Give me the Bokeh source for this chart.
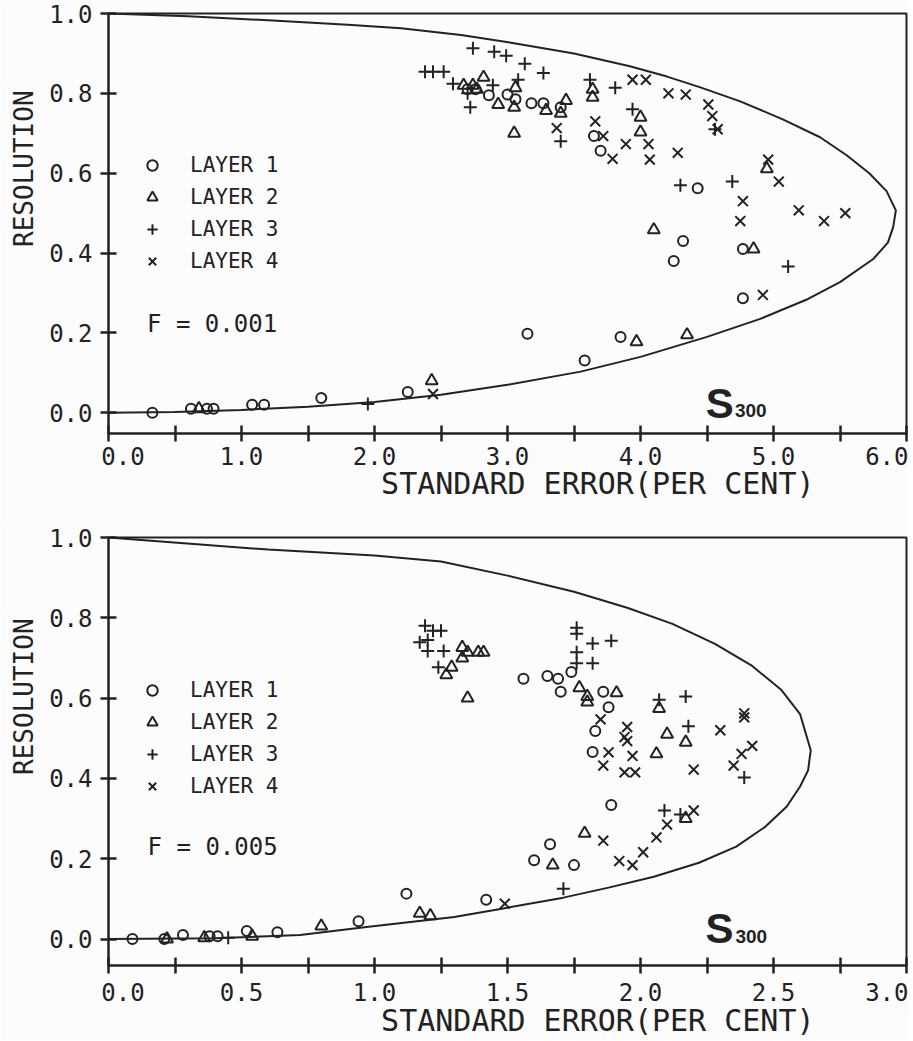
from bokeh.plotting import figure
from bokeh.models import FixedTicker, Label, Legend, LegendItem, Range1d, PrintfTickFormatter
from bokeh.layouts import column
from bokeh.embed import file_html
from bokeh.resources import INLINE

INK = "#222222"
MONO = "DejaVu Sans Mono"
BG = "#fcfcfc"
NB = "\u00a0"

# ---------------- top panel (F = 0.001) ----------------
TOP_CURVE_X = [0.0, 0.6, 1.2, 1.8, 2.2, 2.65, 3.06, 3.5, 3.92, 4.2, 4.45, 4.75, 5.07, 5.35, 5.55, 5.72, 5.85, 5.92, 5.9, 5.86, 5.75, 5.5, 5.26, 4.9, 4.5, 4.0, 3.55, 3.0, 2.5, 2.0, 1.5, 1.0, 0.5, 0.0]
TOP_CURVE_Y = [1.0, 0.993, 0.983, 0.972, 0.963, 0.946, 0.925, 0.9, 0.868, 0.842, 0.815, 0.78, 0.735, 0.69, 0.645, 0.60, 0.555, 0.507, 0.465, 0.426, 0.385, 0.327, 0.285, 0.235, 0.19, 0.14, 0.103, 0.07, 0.045, 0.027, 0.015, 0.007, 0.002, 0.0]

TOP_L1_X = [0.33, 0.62, 0.74, 0.79, 1.08, 1.17, 1.6, 2.25, 3.15, 3.58, 3.85, 4.25, 4.32, 4.77, 4.77, 4.43, 3.70, 3.65, 2.70, 2.76, 2.86, 3.0, 3.06, 3.18, 3.27, 3.40]
TOP_L1_Y = [0.0, 0.01, 0.01, 0.01, 0.02, 0.02, 0.037, 0.052, 0.198, 0.131, 0.19, 0.38, 0.43, 0.41, 0.287, 0.562, 0.656, 0.693, 0.81, 0.81, 0.795, 0.797, 0.785, 0.775, 0.775, 0.765]

TOP_L2_X = [0.68, 2.43, 3.97, 4.35, 4.85, 4.10, 4.95, 4.0, 4.0, 3.64, 3.64, 3.44, 3.40, 3.29, 3.05, 3.05, 3.06, 2.93, 2.82, 2.67, 2.74, 2.77]
TOP_L2_Y = [0.01, 0.08, 0.178, 0.195, 0.41, 0.458, 0.611, 0.74, 0.703, 0.81, 0.79, 0.782, 0.75, 0.757, 0.70, 0.765, 0.814, 0.772, 0.84, 0.82, 0.82, 0.81]

TOP_L3_X = [1.95, 2.38, 2.44, 2.52, 2.59, 2.70, 2.72, 2.74, 2.89, 2.9, 2.99, 3.08, 3.13, 3.27, 3.40, 3.62, 3.81, 3.94, 4.56, 4.30, 4.69, 5.11]
TOP_L3_Y = [0.022, 0.854, 0.854, 0.854, 0.824, 0.80, 0.765, 0.913, 0.82, 0.904, 0.894, 0.834, 0.874, 0.851, 0.68, 0.834, 0.814, 0.76, 0.71, 0.57, 0.579, 0.366]

TOP_L4_X = [2.44, 3.37, 3.66, 3.72, 3.79, 3.89, 3.94, 4.04, 4.06, 4.07, 4.21, 4.28, 4.34, 4.51, 4.54, 4.58, 4.75, 4.77, 4.96, 5.04, 5.19, 5.38, 5.54, 4.92]
TOP_L4_Y = [0.047, 0.713, 0.73, 0.693, 0.636, 0.673, 0.834, 0.834, 0.673, 0.634, 0.80, 0.651, 0.797, 0.772, 0.743, 0.71, 0.48, 0.53, 0.634, 0.579, 0.507, 0.48, 0.50, 0.295]

TOP_X_TICKS = [0.0, 0.5, 1.0, 1.5, 2.0, 2.5, 3.0, 3.5, 4.0, 4.5, 5.0, 5.5, 6.0]
TOP_X_LABELED = [0.0, 1.0, 2.0, 3.0, 4.0, 5.0, 6.0]

# ---------------- bottom panel (F = 0.005) ----------------
BOT_CURVE_X = [0.0, 0.6, 1.0, 1.25, 1.5, 1.75, 1.95, 2.12, 2.28, 2.42, 2.53, 2.6, 2.64, 2.63, 2.6, 2.55, 2.47, 2.36, 2.22, 2.05, 1.88, 1.71, 1.5, 1.3, 0.97, 0.72, 0.4, 0.0]
BOT_CURVE_Y = [1.0, 0.97, 0.955, 0.94, 0.905, 0.865, 0.825, 0.785, 0.735, 0.68, 0.62, 0.56, 0.47, 0.42, 0.38, 0.33, 0.28, 0.23, 0.19, 0.155, 0.128, 0.103, 0.078, 0.055, 0.03, 0.01, 0.002, 0.0]

BOT_L1_X = [0.09, 0.21, 0.28, 0.38, 0.41, 0.52, 0.635, 0.94, 1.12, 1.42, 1.60, 1.66, 1.75, 1.89, 1.56, 1.65, 1.69, 1.70, 1.74, 1.86, 1.88, 1.83, 1.82]
BOT_L1_Y = [0.0, 0.0, 0.01, 0.007, 0.007, 0.02, 0.017, 0.044, 0.113, 0.098, 0.196, 0.236, 0.184, 0.334, 0.648, 0.655, 0.648, 0.616, 0.665, 0.616, 0.577, 0.518, 0.466]

BOT_L2_X = [0.22, 0.36, 0.54, 0.80, 1.17, 1.21, 1.29, 1.27, 1.33, 1.35, 1.39, 1.41, 1.33, 1.35, 1.77, 1.80, 1.80, 1.91, 2.07, 2.10, 2.17, 2.06, 1.79, 1.67, 2.17]
BOT_L2_Y = [0.0, 0.003, 0.007, 0.032, 0.064, 0.058, 0.677, 0.658, 0.726, 0.714, 0.714, 0.714, 0.70, 0.60, 0.626, 0.604, 0.59, 0.613, 0.574, 0.51, 0.49, 0.461, 0.263, 0.184, 0.30]

BOT_L3_X = [0.45, 1.19, 1.22, 1.25, 1.17, 1.20, 1.20, 1.26, 1.24, 1.76, 1.76, 1.82, 1.89, 1.76, 1.76, 1.82, 2.07, 2.17, 2.18, 2.39, 2.09, 2.15, 1.71]
BOT_L3_Y = [0.003, 0.78, 0.768, 0.768, 0.739, 0.745, 0.717, 0.717, 0.677, 0.775, 0.76, 0.736, 0.743, 0.714, 0.687, 0.687, 0.596, 0.604, 0.53, 0.402, 0.32, 0.31, 0.125]

BOT_L4_X = [1.49, 1.85, 1.95, 1.94, 1.95, 2.30, 2.39, 2.39, 1.88, 1.86, 1.97, 1.94, 1.98, 2.20, 2.38, 2.42, 2.35, 2.20, 2.10, 2.06, 2.01, 1.92, 1.97, 1.86]
BOT_L4_Y = [0.088, 0.547, 0.528, 0.503, 0.493, 0.52, 0.562, 0.552, 0.465, 0.432, 0.456, 0.415, 0.415, 0.422, 0.461, 0.481, 0.432, 0.32, 0.285, 0.253, 0.216, 0.194, 0.184, 0.245]

BOT_X_TICKS = [0.0, 0.25, 0.5, 0.75, 1.0, 1.25, 1.5, 1.75, 2.0, 2.25, 2.5, 2.75, 3.0]
BOT_X_LABELED = [0.0, 0.5, 1.0, 1.5, 2.0, 2.5, 3.0]

Y_TICKS = [0.0, 0.2, 0.4, 0.6, 0.8, 1.0]
LAYER_NAMES = ["LAYER 1", "LAYER 2", "LAYER 3", "LAYER 4"]
X_TITLE = "STANDARD ERROR(PER CENT)"
Y_TITLE = "RESOLUTION"


def panel(height, min_top, min_bottom, x_end, y_start, ticks, labeled,
          curve_x, curve_y, layers, f_text, f_pos, s_pos, sub_pos, legend_bottom,
          xlabel_standoff, xtitle_standoff):
    p = figure(width=908, height=height, output_backend="svg", toolbar_location=None,
               x_range=Range1d(0, x_end), y_range=Range1d(y_start, 1.0),
               min_border_left=108, min_border_right=2, min_border_top=min_top,
               min_border_bottom=min_bottom)
    p.background_fill_color = BG
    p.border_fill_color = BG
    p.outline_line_color = INK
    p.outline_line_width = 2
    p.xgrid.visible = False
    p.ygrid.visible = False

    for ax in (p.xaxis[0], p.yaxis[0]):
        ax.axis_line_color = INK
        ax.axis_line_width = 2
        ax.major_tick_line_color = INK
        ax.major_tick_line_width = 2.5
        ax.major_tick_in = 8
        ax.major_tick_out = 8
        ax.minor_tick_line_color = None
        ax.major_label_text_font = MONO
        ax.major_label_text_font_size = "24px"
        ax.major_label_text_color = INK
        ax.formatter = PrintfTickFormatter(format="%.1f")
        ax.axis_label_text_font = MONO
        ax.axis_label_text_font_style = "normal"
        ax.axis_label_text_color = INK

    xa = p.xaxis[0]
    xa.ticker = FixedTicker(ticks=ticks)
    xa.major_label_standoff = xlabel_standoff
    overrides = {t: "" for t in ticks if t not in labeled}
    overrides[labeled[0]] = NB * 2 + "%.1f" % labeled[0]
    xa.major_label_overrides = overrides
    xa.axis_label = NB * 10 + X_TITLE
    xa.axis_label_text_font_size = "30px"
    xa.axis_label_standoff = xtitle_standoff

    ya = p.yaxis[0]
    ya.ticker = FixedTicker(ticks=Y_TICKS)
    ya.major_label_standoff = 8
    ya.axis_label = NB * 7 + Y_TITLE
    ya.axis_label_text_font_size = "26px"
    ya.axis_label_standoff = 7

    p.line(curve_x, curve_y, line_color=INK, line_width=2)

    markers = ["circle", "triangle", "cross", "x"]
    sizes = [10, 12, 13, 14]
    rends = []
    for (lx, ly), m, s in zip(layers, markers, sizes):
        r = p.scatter(lx, ly, marker=m, size=s, fill_color=None, line_color=INK, line_width=2)
        rends.append(r)

    legend = Legend(items=[LegendItem(label=n, renderers=[r]) for n, r in zip(LAYER_NAMES, rends)],
                    location=(31, legend_bottom), glyph_width=26, glyph_height=26,
                    label_standoff=25, spacing=6, padding=0, margin=0,
                    border_line_color=None, background_fill_alpha=0,
                    label_text_font=MONO, label_text_font_size="21px",
                    label_text_color=INK, label_height=26)
    p.add_layout(legend)

    p.add_layout(Label(x=f_pos[0], y=f_pos[1], text=f_text, text_font=MONO, text_color=INK,
                       text_font_size="24px", text_baseline="middle"))
    p.add_layout(Label(x=s_pos[0], y=s_pos[1], text="S", text_font="Liberation Sans",
                       text_font_style="bold", text_font_size="42px", text_color=INK,
                       text_baseline="alphabetic"))
    p.add_layout(Label(x=sub_pos[0], y=sub_pos[1], text="300", text_font="Liberation Sans",
                       text_font_style="bold", text_font_size="19px", text_color=INK,
                       text_baseline="alphabetic"))
    return p


p1 = panel(523, 13, 90, 6.0, -0.052, TOP_X_TICKS, TOP_X_LABELED,
           TOP_CURVE_X, TOP_CURVE_Y,
           [(TOP_L1_X, TOP_L1_Y), (TOP_L2_X, TOP_L2_Y), (TOP_L3_X, TOP_L3_Y), (TOP_L4_X, TOP_L4_Y)],
           "F = 0.001", (0.29, 0.223), (4.49, 0.022), (4.71, 0.005), 159, 1, -8)

p2 = panel(517, 14, 71, 3.0, -0.066, BOT_X_TICKS, BOT_X_LABELED,
           BOT_CURVE_X, BOT_CURVE_Y,
           [(BOT_L1_X, BOT_L1_Y), (BOT_L2_X, BOT_L2_Y), (BOT_L3_X, BOT_L3_Y), (BOT_L4_X, BOT_L4_Y)],
           "F = 0.005", (0.147, 0.228), (2.244, 0.025), (2.357, 0.007), 166, 5, -7)

layout = column(p1, p2, spacing=0)
open("out.html", "w").write(file_html(layout, INLINE))
